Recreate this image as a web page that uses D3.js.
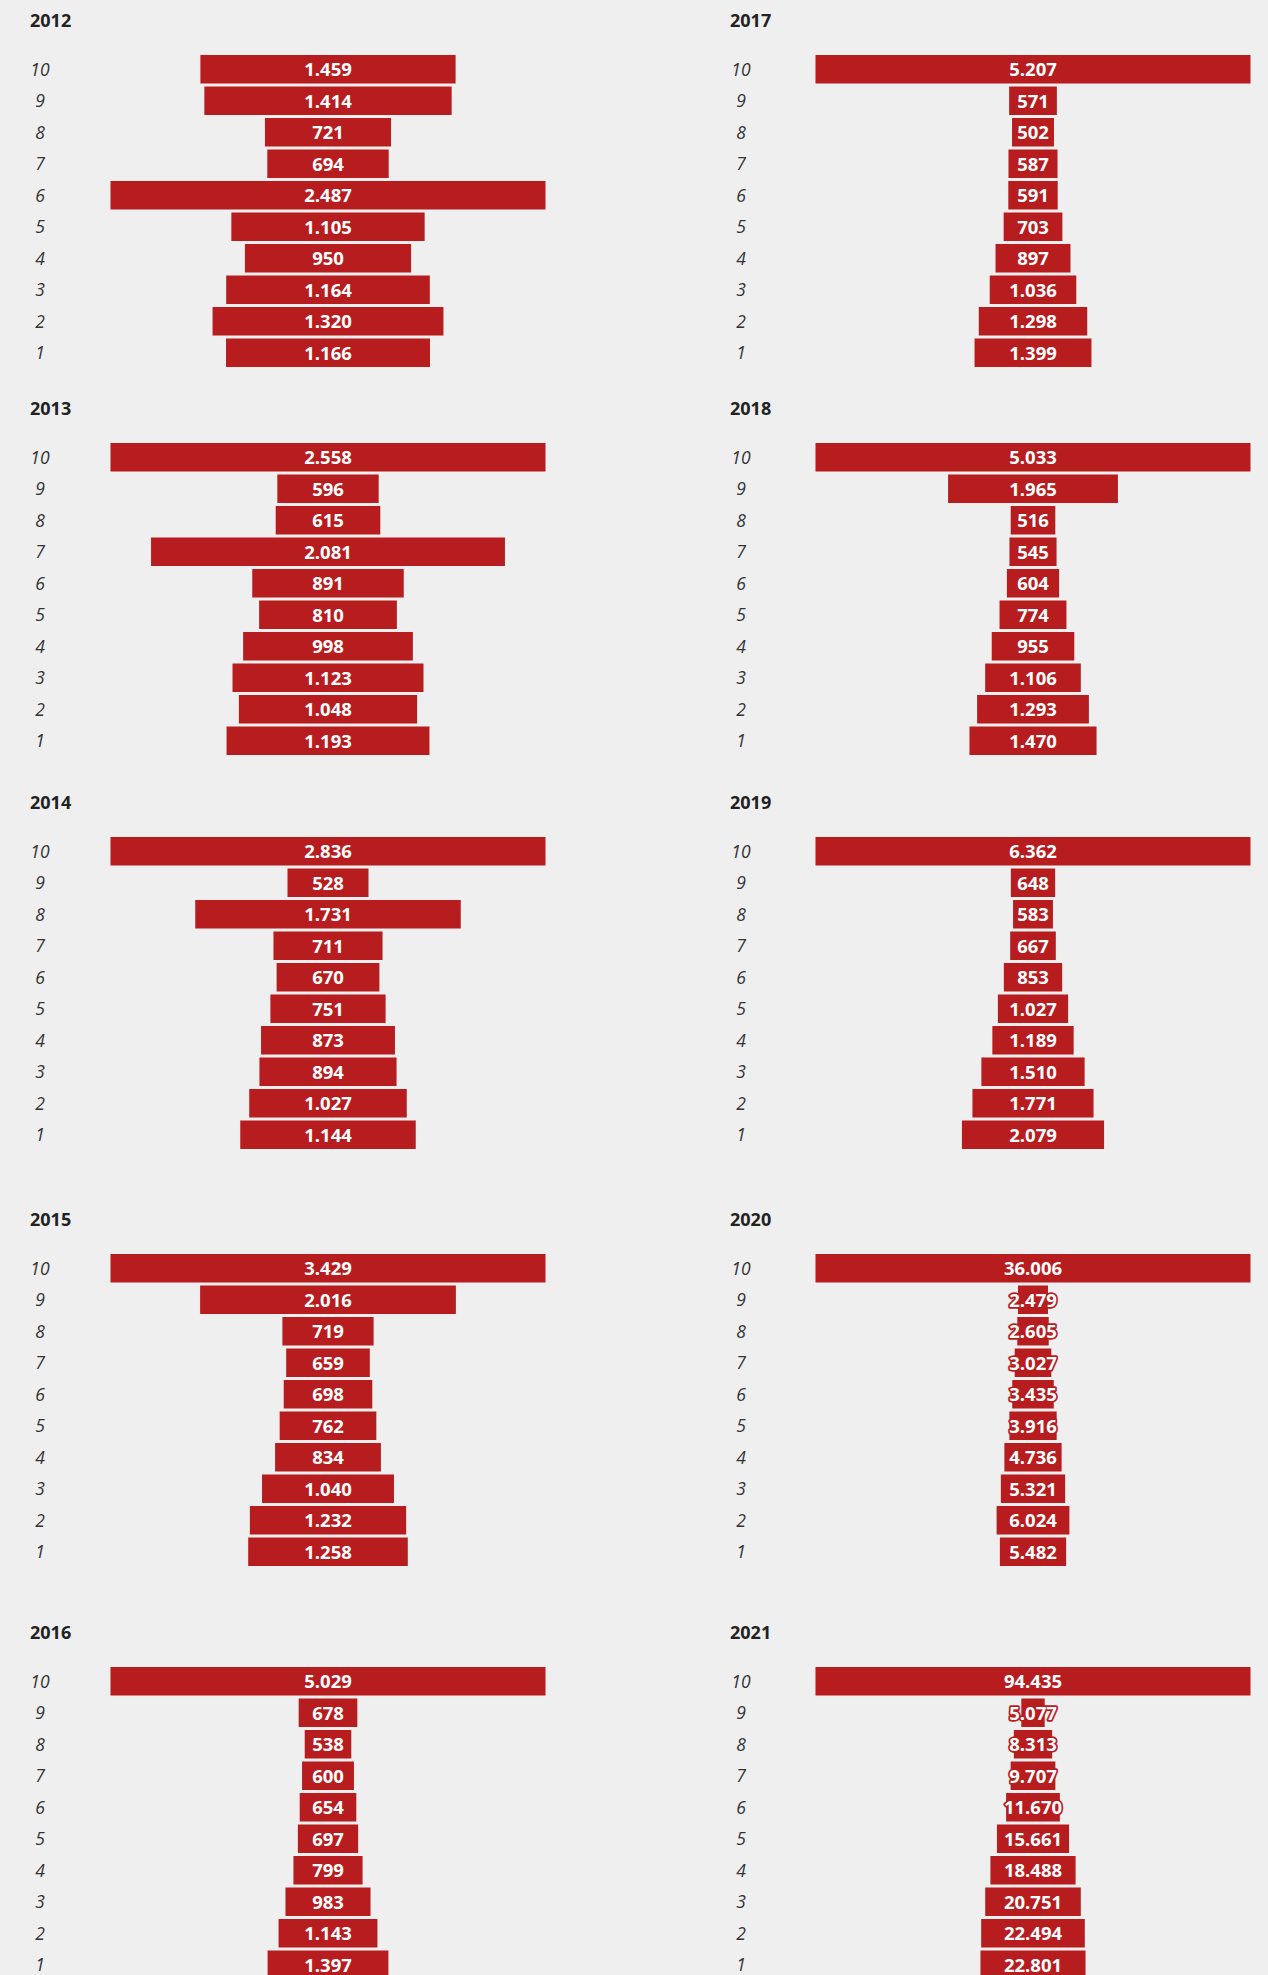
<!DOCTYPE html>
<html>
<head>
<meta charset="utf-8">
<script src="https://cdn.jsdelivr.net/npm/d3@7"></script>
<style>
    html, body { margin: 0; padding: 0; background: #efefef; }
    svg { display: block; }
</style>
</head>
<body>
<svg id="main" width="1268" height="1975"></svg>
<script>
// Kategorien (von oben nach unten)
const categories = ['10', '9', '8', '7', '6', '5', '4', '3', '2', '1'];

// Jahre (links: 2012-2016, rechts: 2017-2021)
const years = ['2012', '2013', '2014', '2015', '2016', '2017', '2018', '2019', '2020', '2021'];

// Werte pro Jahr, Reihenfolge wie categories
const values2012 = [1459, 1414, 721, 694, 2487, 1105, 950, 1164, 1320, 1166];
const values2013 = [2558, 596, 615, 2081, 891, 810, 998, 1123, 1048, 1193];
const values2014 = [2836, 528, 1731, 711, 670, 751, 873, 894, 1027, 1144];
const values2015 = [3429, 2016, 719, 659, 698, 762, 834, 1040, 1232, 1258];
const values2016 = [5029, 678, 538, 600, 654, 697, 799, 983, 1143, 1397];
const values2017 = [5207, 571, 502, 587, 591, 703, 897, 1036, 1298, 1399];
const values2018 = [5033, 1965, 516, 545, 604, 774, 955, 1106, 1293, 1470];
const values2019 = [6362, 648, 583, 667, 853, 1027, 1189, 1510, 1771, 2079];
const values2020 = [36006, 2479, 2605, 3027, 3435, 3916, 4736, 5321, 6024, 5482];
const values2021 = [94435, 5077, 8313, 9707, 11670, 15661, 18488, 20751, 22494, 22801];

const allValues = [values2012, values2013, values2014, values2015, values2016,
                   values2017, values2018, values2019, values2020, values2021];

// Layout
const BAR_COLOR = '#b71c1f';
const ROW_TOPS = [55, 443, 837, 1254, 1667];
const COLUMNS = [
    { labelX: 40, titleX: 30, barCenter: 328 },
    { labelX: 741, titleX: 730, barCenter: 1033 }
];
const BAR_WIDTH = 435;
const BAR_STEP = 31.5;
const BAR_HEIGHT = 28.5;

// Deutsches Zahlenformat (1.459)
const locale = d3.formatLocale({ decimal: ',', thousands: '.', grouping: [3], currency: ['', ' €'] });
const fmt = locale.format(',d');

const svg = d3.select('svg#main');

svg.append('rect')
    .attr('width', 1268)
    .attr('height', 1975)
    .attr('fill', '#efefef');

// y-Skala ist für alle Panels gleich
const y = d3.scaleBand()
    .domain(categories)
    .range([0, 9 * BAR_STEP + BAR_HEIGHT])
    .paddingInner((BAR_STEP - BAR_HEIGHT) / BAR_STEP)
    .paddingOuter(0);

function drawPanel(year, values, col, top) {
    const data = categories.map((c, i) => ({ cat: c, value: values[i] }));
    const x = d3.scaleLinear()
        .domain([0, d3.max(values)])
        .range([0, BAR_WIDTH]);

    const g = svg.append('g')
        .attr('transform', `translate(0,${top})`);

    // Jahr als Titel
    g.append('text')
        .attr('x', col.titleX)
        .attr('y', -28)
        .attr('font-family', '"Open Sans", sans-serif')
        .attr('font-weight', 700)
        .attr('font-size', 18)
        .attr('fill', '#222222')
        .text(year);

    // Kategorie-Beschriftung
    g.selectAll('.cat')
        .data(data)
        .join('text')
        .attr('class', 'cat')
        .attr('x', col.labelX)
        .attr('y', d => y(d.cat) + y.bandwidth() / 2)
        .attr('dy', '0.36em')
        .attr('text-anchor', 'middle')
        .attr('font-family', '"Open Sans", sans-serif')
        .attr('font-style', 'italic')
        .attr('font-weight', 400)
        .attr('font-size', 17.5)
        .attr('fill', '#333333')
        .text(d => d.cat);

    // Balken, zentriert
    g.selectAll('.bar')
        .data(data)
        .join('rect')
        .attr('class', 'bar')
        .attr('x', d => col.barCenter - x(d.value) / 2)
        .attr('y', d => y(d.cat))
        .attr('width', d => x(d.value))
        .attr('height', y.bandwidth())
        .attr('fill', BAR_COLOR);

    // Werte, mit roter Kontur falls breiter als der Balken
    g.selectAll('.val')
        .data(data)
        .join('text')
        .attr('class', 'val')
        .attr('x', col.barCenter)
        .attr('y', d => y(d.cat) + y.bandwidth() / 2)
        .attr('dy', '0.37em')
        .attr('text-anchor', 'middle')
        .attr('font-family', '"Open Sans", sans-serif')
        .attr('font-weight', 700)
        .attr('font-size', 18.5)
        .attr('fill', '#ffffff')
        .attr('stroke', BAR_COLOR)
        .attr('stroke-width', 3.5)
        .attr('stroke-linejoin', 'round')
        .attr('paint-order', 'stroke')
        .text(d => fmt(d.value));
}

years.forEach((year, i) => {
    const col = COLUMNS[Math.floor(i / 5)];
    const top = ROW_TOPS[i % 5];
    drawPanel(year, allValues[i], col, top);
});
</script>
</body>
</html>
